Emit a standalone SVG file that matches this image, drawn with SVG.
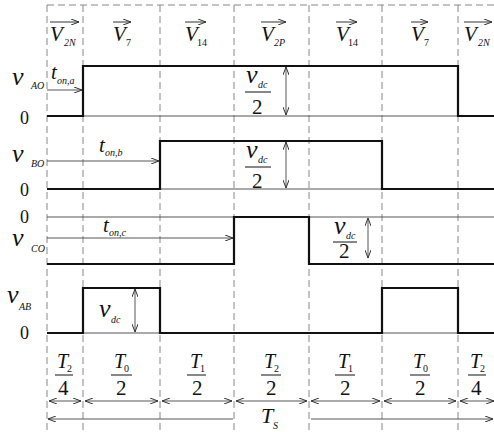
<svg xmlns="http://www.w3.org/2000/svg" width="494" height="432" viewBox="0 0 494 432" font-family="Liberation Serif">
<defs>
<marker id="ah" viewBox="0 0 8 6" refX="8" refY="3" markerWidth="8" markerHeight="6" markerUnits="userSpaceOnUse" orient="auto-start-reverse">
<path d="M0,0 L8,3 L0,6" fill="none" stroke="#333" stroke-width="1"/>
</marker>
</defs>
<style>
.dash{stroke:#888;stroke-width:1;stroke-dasharray:7,4;fill:none}
.thin{stroke:#555;stroke-width:1;fill:none}
.thick{stroke:#111;stroke-width:2.2;fill:none}
.arr{stroke:#444;stroke-width:0.9;fill:none;marker-end:url(#ah)}
.arr2{stroke:#444;stroke-width:0.9;fill:none;marker-end:url(#ah);marker-start:url(#ah)}
.ov{stroke:#333;stroke-width:1;fill:none;marker-end:url(#ah)}
text{fill:#111}
.big{font-size:26px;font-style:italic}
.V{font-size:21px;font-style:italic}
.sub{font-size:10px;font-style:italic}
.subn{font-size:10px}
.num{font-size:18px}
.den{font-size:21px}
.T{font-size:20px;font-style:italic}
.fb{stroke:#111;stroke-width:1}
</style>
<g id="grid">
<line class="dash" x1="47" y1="5" x2="494" y2="5"/>
<line class="dash" x1="47" y1="5" x2="47" y2="432"/>
<line class="dash" x1="83" y1="5" x2="83" y2="432"/>
<line class="dash" x1="160" y1="5" x2="160" y2="432"/>
<line class="dash" x1="234" y1="5" x2="234" y2="432"/>
<line class="dash" x1="309" y1="5" x2="309" y2="432"/>
<line class="dash" x1="382" y1="5" x2="382" y2="432"/>
<line class="dash" x1="458" y1="5" x2="458" y2="432"/>
</g>
<g id="headers">
<line class="ov" x1="50" y1="22" x2="79" y2="22"/>
<text class="V" x="50" y="41">V</text><text class="sub" x="64" y="46">2N</text>
<line class="ov" x1="113" y1="22" x2="131" y2="22"/>
<text class="V" x="113" y="41">V</text><text class="subn" x="126" y="46">7</text>
<line class="ov" x1="185" y1="22" x2="206" y2="22"/>
<text class="V" x="185" y="41">V</text><text class="subn" x="197" y="46">14</text>
<line class="ov" x1="261" y1="22" x2="286" y2="22"/>
<text class="V" x="261" y="41">V</text><text class="sub" x="274" y="46">2P</text>
<line class="ov" x1="336" y1="22" x2="357" y2="22"/>
<text class="V" x="336" y="41">V</text><text class="subn" x="348" y="46">14</text>
<line class="ov" x1="411" y1="22" x2="428" y2="22"/>
<text class="V" x="411" y="41">V</text><text class="subn" x="424" y="46">7</text>
<line class="ov" x1="464" y1="22" x2="492" y2="22"/>
<text class="V" x="464" y="41">V</text><text class="sub" x="478" y="46">2N</text>
</g>
<g id="vAO">
<line class="thin" x1="47" y1="116" x2="494" y2="116"/>
<polyline class="thick" points="47,116 83,116 83,66 458,66 458,116 494,116"/>
<text class="big" x="12" y="85">v</text><text class="sub" x="31" y="89">AO</text>
<text class="num" x="20" y="124">0</text>
<line class="arr" x1="47" y1="90" x2="82" y2="90"/>
<text class="V" x="51" y="79">t</text><text class="sub" x="57" y="84">on,a</text>
<text class="big" x="246" y="83">v</text><text class="sub" x="258" y="88">dc</text>
<line class="fb" x1="245" y1="92" x2="271" y2="92"/>
<text class="den" x="252" y="114">2</text>
<line class="arr2" x1="286" y1="67" x2="286" y2="115"/>
</g>
<g id="vBO">
<line class="thin" x1="47" y1="189" x2="494" y2="189"/>
<polyline class="thick" points="47,189 160,189 160,141 382,141 382,189 494,189"/>
<text class="big" x="12" y="162">v</text><text class="sub" x="31" y="167">BO</text>
<text class="num" x="20" y="196">0</text>
<line class="arr" x1="47" y1="161" x2="159" y2="161"/>
<text class="V" x="99" y="152">t</text><text class="sub" x="105" y="156">on,b</text>
<text class="big" x="246" y="158">v</text><text class="sub" x="258" y="163">dc</text>
<line class="fb" x1="245" y1="167" x2="271" y2="167"/>
<text class="den" x="252" y="188">2</text>
<line class="arr2" x1="286" y1="142" x2="286" y2="188"/>
</g>
<g id="vCO">
<line class="thin" x1="47" y1="217" x2="494" y2="217"/>
<polyline class="thick" points="47,264 234,264 234,217 309,217 309,264 494,264"/>
<text class="big" x="12" y="246">v</text><text class="sub" x="31" y="252">CO</text>
<text class="num" x="20" y="223">0</text>
<line class="arr" x1="47" y1="238" x2="233" y2="238"/>
<text class="V" x="103" y="232">t</text><text class="sub" x="109" y="236">on,c</text>
<text class="big" x="334" y="234">v</text><text class="sub" x="346" y="239">dc</text>
<line class="fb" x1="333" y1="242" x2="357" y2="242"/>
<text class="den" x="339" y="258">2</text>
<line class="arr2" x1="368" y1="218" x2="368" y2="258"/>
</g>
<g id="vAB">
<line class="thin" x1="47" y1="333" x2="494" y2="333"/>
<polyline class="thick" points="47,333 83,333 83,288 160,288 160,333 382,333 382,288 458,288 458,333 494,333"/>
<text class="big" x="7" y="303">v</text><text class="sub" x="19" y="310">AB</text>
<text class="num" x="20" y="339">0</text>
<text class="big" x="99" y="317">v</text><text class="sub" x="111" y="323">dc</text>
<line class="arr2" x1="135" y1="289" x2="135" y2="332"/>
</g>
<g id="intervals">
<text class="T" x="57" y="368">T</text><text class="subn" x="67" y="372">2</text>
<line class="fb" x1="55" y1="375" x2="73" y2="375"/><text class="den" x="58" y="395">4</text>
<text class="T" x="114" y="368">T</text><text class="subn" x="124" y="372">0</text>
<line class="fb" x1="111" y1="375" x2="132" y2="375"/><text class="den" x="116" y="395">2</text>
<text class="T" x="190" y="368">T</text><text class="subn" x="200" y="372">1</text>
<line class="fb" x1="187" y1="375" x2="206" y2="375"/><text class="den" x="192" y="395">2</text>
<text class="T" x="264" y="368">T</text><text class="subn" x="274" y="372">2</text>
<line class="fb" x1="261" y1="375" x2="281" y2="375"/><text class="den" x="266" y="395">2</text>
<text class="T" x="338" y="368">T</text><text class="subn" x="348" y="372">1</text>
<line class="fb" x1="335" y1="375" x2="355" y2="375"/><text class="den" x="340" y="395">2</text>
<text class="T" x="413" y="368">T</text><text class="subn" x="423" y="372">0</text>
<line class="fb" x1="410" y1="375" x2="430" y2="375"/><text class="den" x="415" y="395">2</text>
<text class="T" x="470" y="368">T</text><text class="subn" x="480" y="372">2</text>
<line class="fb" x1="468" y1="375" x2="486" y2="375"/><text class="den" x="471" y="395">4</text>
</g>
<g id="connectors">
<line class="arr2" x1="49" y1="401" x2="81" y2="401"/>
<line class="arr2" x1="85" y1="401" x2="158" y2="401"/>
<line class="arr2" x1="162" y1="401" x2="232" y2="401"/>
<line class="arr2" x1="236" y1="401" x2="307" y2="401"/>
<line class="arr2" x1="311" y1="401" x2="380" y2="401"/>
<line class="arr2" x1="384" y1="401" x2="456" y2="401"/>
<line class="arr2" x1="460" y1="401" x2="494" y2="401"/>
<line class="arr" x1="233" y1="419" x2="48" y2="419"/>
<line class="arr" x1="311" y1="419" x2="493" y2="419"/>
</g>
<g id="ts">
<text class="T" x="261" y="423" style="font-size:22px">T</text><text class="sub" x="273" y="429">S</text>
</g>
</svg>
